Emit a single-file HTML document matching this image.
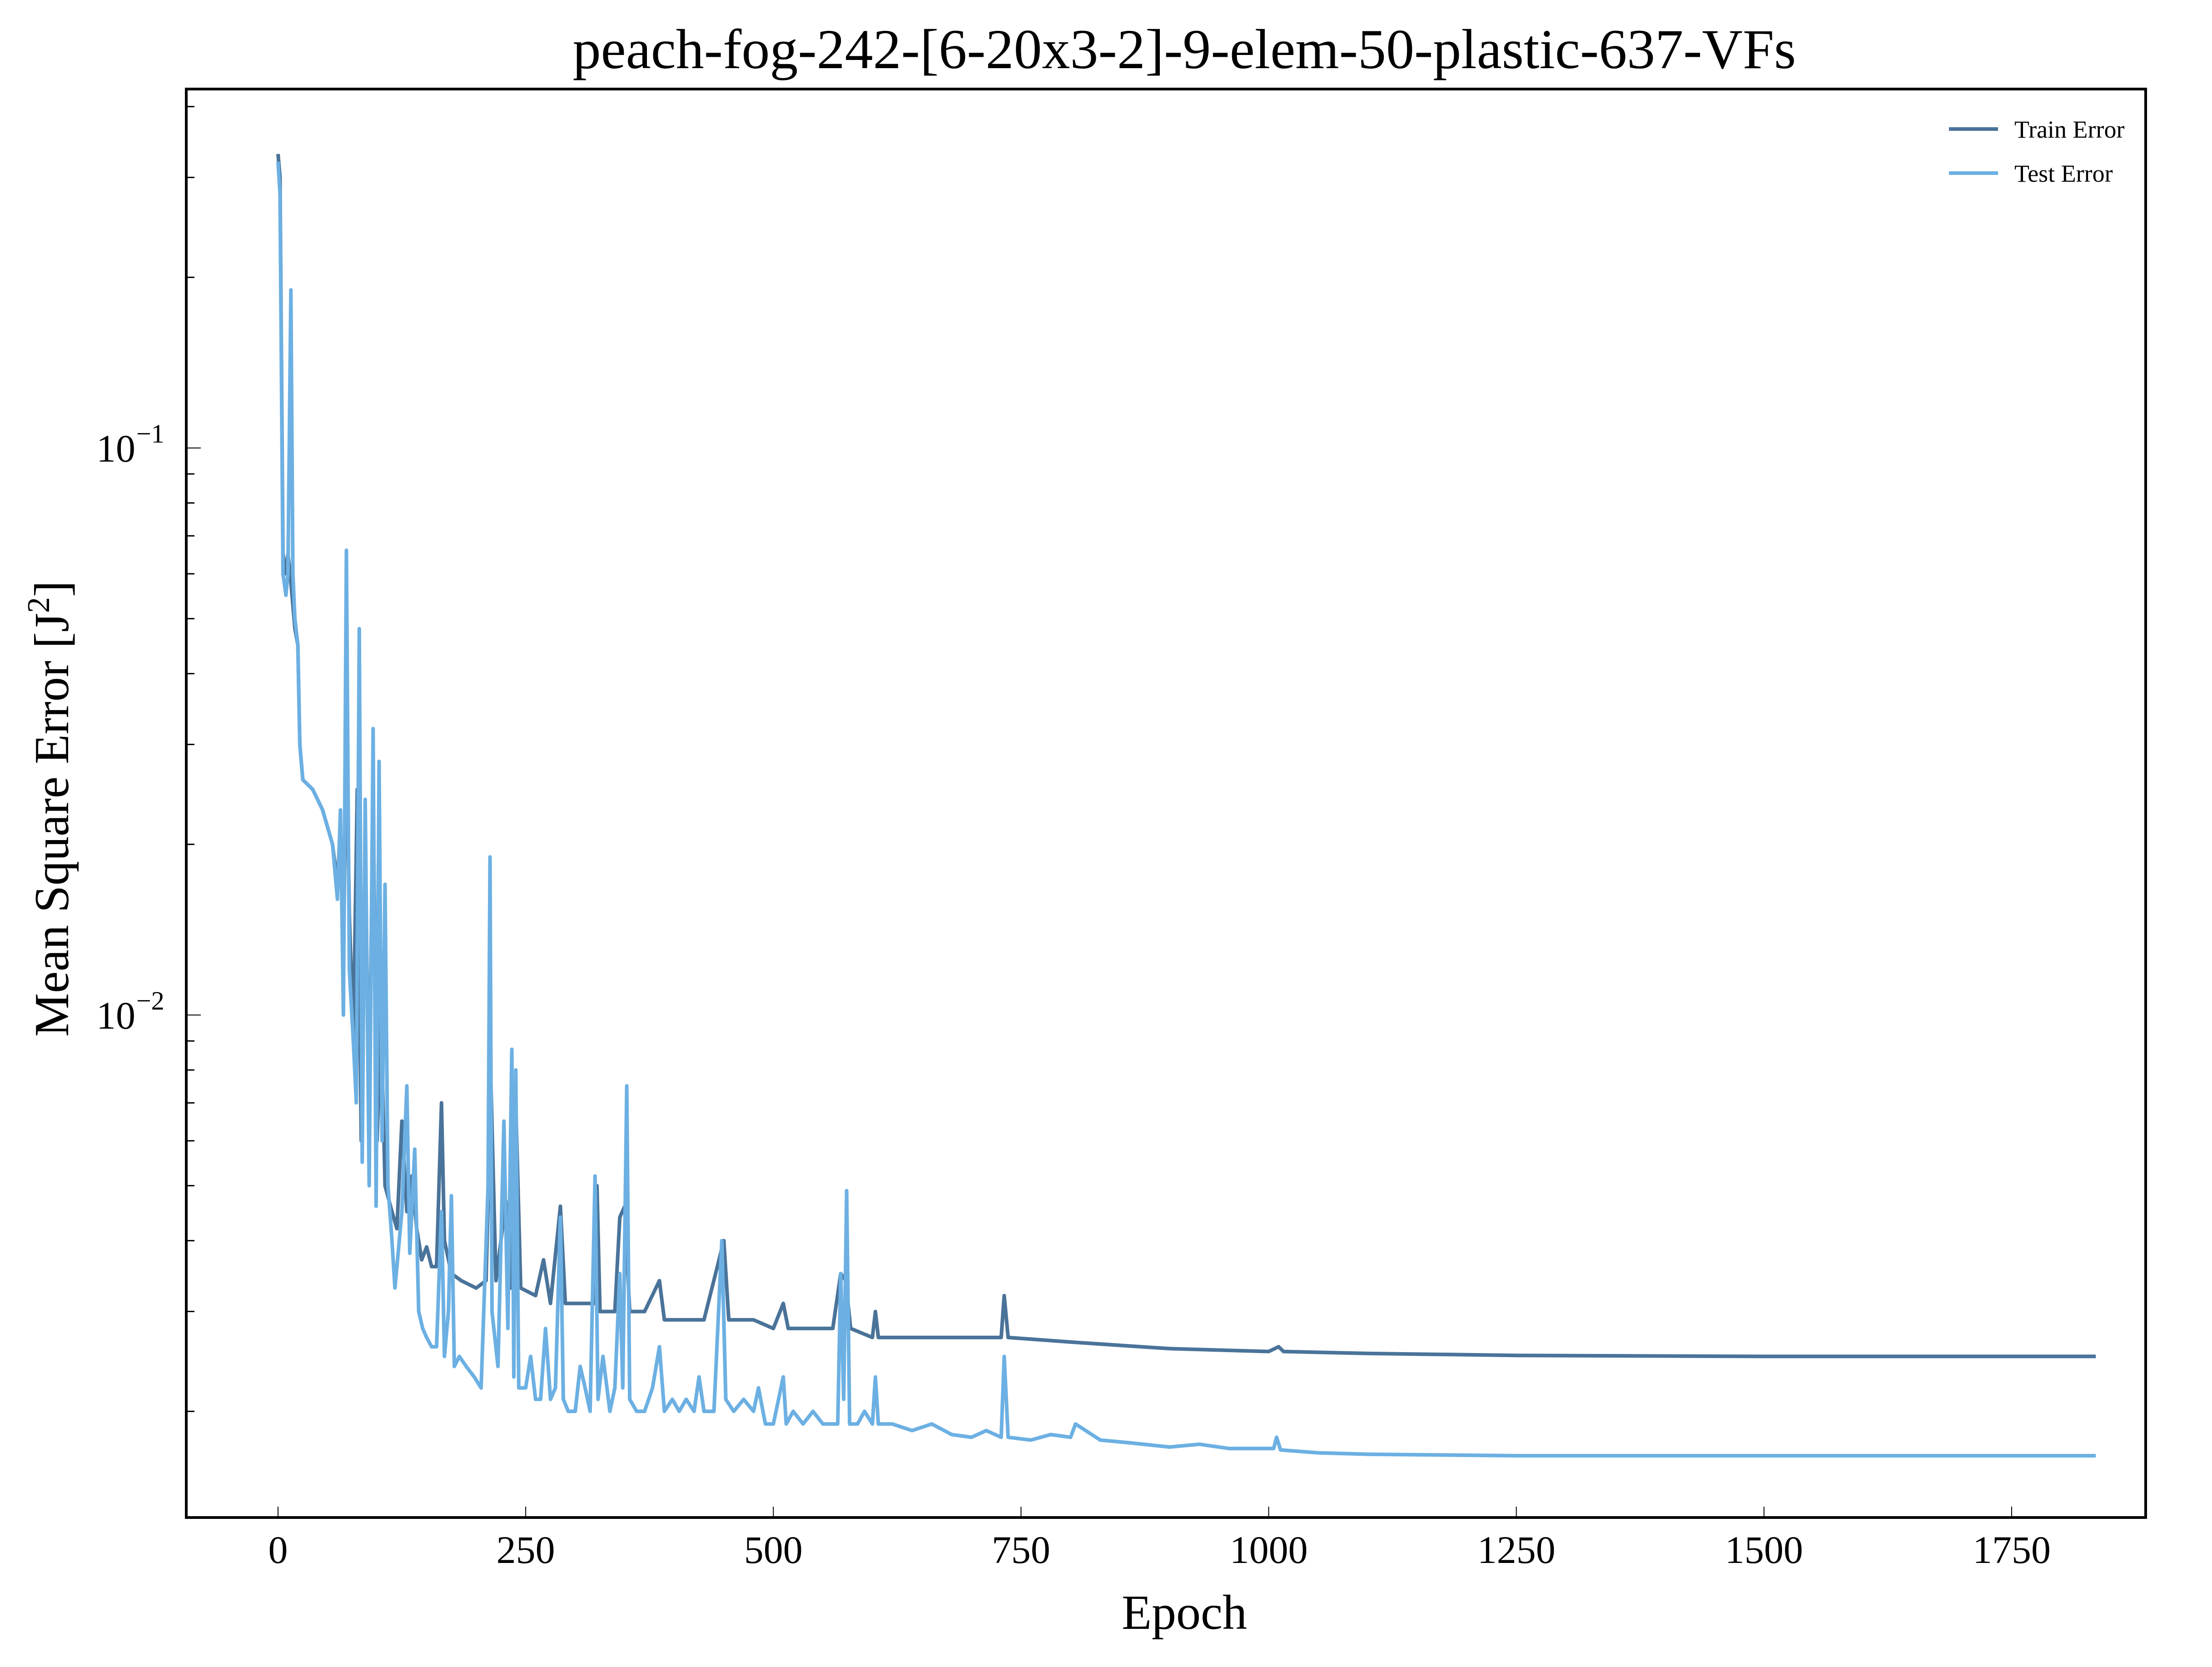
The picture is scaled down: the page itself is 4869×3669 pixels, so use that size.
<!DOCTYPE html>
<html><head><meta charset="utf-8"><style>
html,body{margin:0;padding:0;background:#fff;}
svg{display:block;font-family:"Liberation Serif",serif;}
</style></head><body>
<svg id="chart" width="4869" height="3669" viewBox="0 0 4869 3669" xmlns="http://www.w3.org/2000/svg">
<rect x="0" y="0" width="4869" height="3669" fill="#fff"/>
<text x="2607" y="150" font-size="124" text-anchor="middle">peach-fog-242-[6-20x3-2]-9-elem-50-plastic-637-VFs</text>
<g id="plot"></g>
<g id="axes"></g>
<text x="2607" y="3585" font-size="108" text-anchor="middle">Epoch</text>
<text transform="translate(150,1780) rotate(-90)" font-size="108" text-anchor="middle">Mean Square Error [J<tspan font-size="70" dy="-42">2</tspan><tspan dy="42">]</tspan></text>
<g>
<line x1="4290" y1="284" x2="4398" y2="284" stroke="#4a7399" stroke-width="8"/>
<text x="4434" y="303" font-size="54">Train Error</text>
<line x1="4290" y1="381" x2="4398" y2="381" stroke="#6cb0e3" stroke-width="8"/>
<text x="4434" y="400" font-size="54">Test Error</text>
</g>
</svg>
<script>
const trainEpochs=[0,2,5,8,10,13,17,20,22,25,35,45,55,60,63,66,69,72,76,80,84,88,92,96,100,104,108,115,120,125,130,135,140,145,150,155,160,165,168,175,185,200,210,215,220,230,235,240,245,260,268,275,285,290,300,320,322,325,340,345,350,355,370,385,390,430,450,455,480,500,510,515,560,568,573,578,600,603,606,700,730,733,737,800,900,1000,1010,1015,1100,1250,1500,1835];
const trainValues=[0.33,0.30,0.065,0.06,0.065,0.058,0.048,0.045,0.03,0.026,0.025,0.023,0.020,0.017,0.022,0.012,0.033,0.015,0.009,0.025,0.006,0.018,0.007,0.025,0.006,0.010,0.005,0.0045,0.0042,0.0065,0.0045,0.0052,0.0042,0.0037,0.0039,0.0036,0.0036,0.0070,0.0040,0.0035,0.0034,0.0033,0.0034,0.0075,0.0034,0.0047,0.0033,0.0070,0.0033,0.0032,0.0037,0.0031,0.0046,0.0031,0.0031,0.0031,0.0050,0.0030,0.0030,0.0044,0.0046,0.0030,0.0030,0.0034,0.0029,0.0029,0.0040,0.0029,0.0029,0.0028,0.0031,0.0028,0.0028,0.0035,0.0034,0.0028,0.0027,0.0030,0.0027,0.0027,0.0027,0.0032,0.0027,0.00265,0.00258,0.00255,0.0026,0.00255,0.00253,0.00251,0.0025,0.0025];
const testEpochs=[0,2,5,8,10,13,15,17,20,22,25,35,45,55,60,63,66,69,72,76,79,82,85,88,92,96,99,102,105,108,111,115,118,120,125,130,133,138,142,146,150,155,160,165,168,172,175,178,183,190,198,205,212,214,216,222,228,232,236,238,240,243,250,255,260,265,270,275,280,285,288,293,300,305,310,315,320,323,328,335,340,345,348,352,355,362,370,378,385,390,398,405,412,420,425,430,440,448,452,460,470,480,485,492,500,510,513,520,530,540,550,565,568,571,574,577,585,592,600,603,606,620,640,660,680,700,715,730,733,737,760,780,800,805,830,860,900,930,960,1005,1008,1012,1050,1100,1250,1835];
const testValues=[0.32,0.28,0.06,0.055,0.06,0.19,0.06,0.05,0.045,0.03,0.026,0.025,0.023,0.020,0.016,0.023,0.010,0.066,0.012,0.009,0.007,0.048,0.0055,0.024,0.005,0.032,0.0046,0.028,0.006,0.017,0.005,0.0040,0.0033,0.0036,0.0045,0.0075,0.0038,0.0058,0.0030,0.0028,0.0027,0.0026,0.0026,0.0045,0.0025,0.0030,0.0048,0.0024,0.0025,0.0024,0.0023,0.0022,0.0050,0.019,0.0030,0.0024,0.0065,0.0028,0.0087,0.0023,0.0080,0.0022,0.0022,0.0025,0.0021,0.0021,0.0028,0.0021,0.0022,0.0044,0.0021,0.0020,0.0020,0.0024,0.0022,0.0020,0.0052,0.0021,0.0025,0.0020,0.0022,0.0035,0.0022,0.0075,0.0021,0.0020,0.0020,0.0022,0.0026,0.0020,0.0021,0.0020,0.0021,0.0020,0.0023,0.0020,0.0020,0.0040,0.0021,0.0020,0.0021,0.0020,0.0022,0.0019,0.0019,0.0023,0.0019,0.0020,0.0019,0.0020,0.0019,0.0019,0.0035,0.0021,0.0049,0.0019,0.0019,0.0020,0.0019,0.0023,0.0019,0.0019,0.00185,0.0019,0.00182,0.0018,0.00185,0.0018,0.0025,0.0018,0.00178,0.00182,0.00180,0.0019,0.00178,0.00176,0.00173,0.00175,0.00172,0.00172,0.0018,0.00171,0.00169,0.00168,0.00167,0.00167];
const xTicks=[0,250,500,750,1000,1250,1500,1750];
const yMajor=[0.1,0.01];
const yMajorLabels=["\u22121","\u22122"];

const L=410,R=4723,T=196,B=3340;
const X0=612,XPER=(4428-612)/1750;
const YA=986,DEC=1248;
function xs(e){return X0+e*XPER;}
function ys(v){return YA-(Math.log10(v)+1)*DEC;}
const NS="http://www.w3.org/2000/svg";
function mk(tag,attrs,parent){const el=document.createElementNS(NS,tag);for(const k in attrs)el.setAttribute(k,attrs[k]);parent.appendChild(el);return el;}
const plot=document.getElementById('plot');
const axes=document.getElementById('axes');

function line(ep,vals,color,name){
  const pts=ep.map((e,i)=>xs(e).toFixed(1)+","+ys(vals[i]).toFixed(1)).join(" ");
  const p=mk('polyline',{points:pts,fill:'none',stroke:color,'stroke-width':8,'stroke-linejoin':'round'},plot);
  
  
}
line(trainEpochs,trainValues,'#4a7399','train-error-line');
line(testEpochs,testValues,'#6cb0e3','test-error-line');

const frame=mk('rect',{x:L,y:T,width:R-L,height:B-T,fill:'none',stroke:'#000','stroke-width':6},axes);



xTicks.forEach(t=>{
  const x=xs(t);
  const tk=mk('line',{x1:x,y1:B,x2:x,y2:B-24,stroke:'#000','stroke-width':2},axes);
  
  
  const lb=mk('text',{x:x,y:3440,'font-size':86,'text-anchor':'middle'},axes);
  lb.textContent=String(t);
  
  
});

yMajor.forEach((v,i)=>{
  const y=ys(v);
  const tk=mk('line',{x1:L,y1:y,x2:L+32,y2:y,stroke:'#000','stroke-width':2},axes);
  
  
  const lb=mk('text',{x:298,y:y+30,'font-size':86,'text-anchor':'end'},axes);
  lb.textContent="10";
  
  
  const sup=mk('text',{x:300,y:y-12,'font-size':58,'text-anchor':'start'},axes);
  sup.textContent=yMajorLabels[i];
  
  
});
[0.002,0.003,0.004,0.005,0.006,0.007,0.008,0.009,0.02,0.03,0.04,0.05,0.06,0.07,0.08,0.09,0.2,0.3,0.4].forEach(v=>{
  const y=ys(v);
  if(y<T||y>B)return;
  const tk=mk('line',{x1:L,y1:y,x2:L+18,y2:y,stroke:'#000','stroke-width':3},axes);
  
  
});
</script>
</body></html>
